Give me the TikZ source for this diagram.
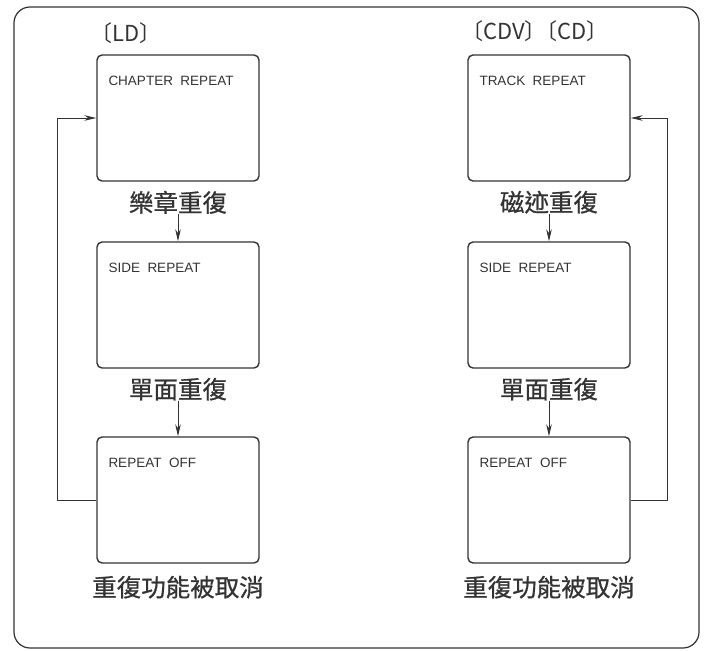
\documentclass[tikz,border=0pt]{standalone}
\usepackage{fontspec}
\setmainfont{Liberation Sans}
\newfontfamily\cjk{Noto Sans CJK TC}
\newfontfamily\cjkheavy[FakeBold=0.7]{Noto Sans CJK TC}
\usetikzlibrary{arrows.meta,positioning}
\colorlet{ink}{black!80}
\tikzset{
  screen/.style={draw=ink, line width=1.4pt, rounded corners=5pt,
    minimum width=162pt, minimum height=126pt, inner sep=0pt},
  scrtext/.style={anchor=north west, inner sep=0pt, text=ink,
    font=\fontsize{13.5}{14}\selectfont},
  caption/.style={inner sep=0pt, text=ink, font=\cjkheavy\fontsize{24.5}{25}\selectfont},
  heading/.style={inner sep=0pt, text=ink, font=\cjk\fontsize{22}{23}\selectfont},
  flow/.style={draw=ink, line width=0.9pt, -{Stealth[length=12pt,width=5.5pt]}},
}
\begin{document}
\begin{tikzpicture}[x=1pt,y=-1pt]
  \useasboundingbox (0,0) rectangle (705,651);
  \draw[ink, line width=1.2pt, rounded corners=16pt] (14,7) rectangle (699,648);
  % screens
  \foreach \c/\x in {L/178, R/549}
    \foreach \n/\y in {1/118, 2/305, 3/500}
      \node[screen] (\c\n) at (\x,\y) {};
  \foreach \b/\t in {L1/CHAPTER\ \ REPEAT, L2/SIDE\ \ REPEAT, L3/REPEAT\ \ OFF,
                     R1/TRACK\ \ REPEAT, R2/SIDE\ \ REPEAT, R3/REPEAT\ \ OFF}
    \node[scrtext] (t\b) at ([shift={(12,22)}]\b.north west) {\t};
  % captions
  \foreach \b/\t in {L1/樂章重復, L2/單面重復, R1/磁迹重復, R2/單面重復}
    \node[caption, below=9pt of \b] (c\b) {\t};
  \foreach \b in {L3, R3}
    \node[caption, below=12pt of \b] (c\b) {重復功能被取消};
  \node[heading] (hL) at (126,33) {〔LD〕};
  \node[heading] (hR) at (535,31) {〔CDV〕\kern-11pt〔CD〕};
  % arrows
  \draw[flow] (cL1) -- (L2);
  \draw[flow] (cL2) -- (L3);
  \draw[flow] (cR1) -- (R2);
  \draw[flow] (cR2) -- (R3);
  \draw[flow] (L3.west) -- ++(-39,0) |- (L1.west);
  \draw[flow] (R3.east) -- ++(37,0) |- (R1.east);
\end{tikzpicture}
\end{document}
